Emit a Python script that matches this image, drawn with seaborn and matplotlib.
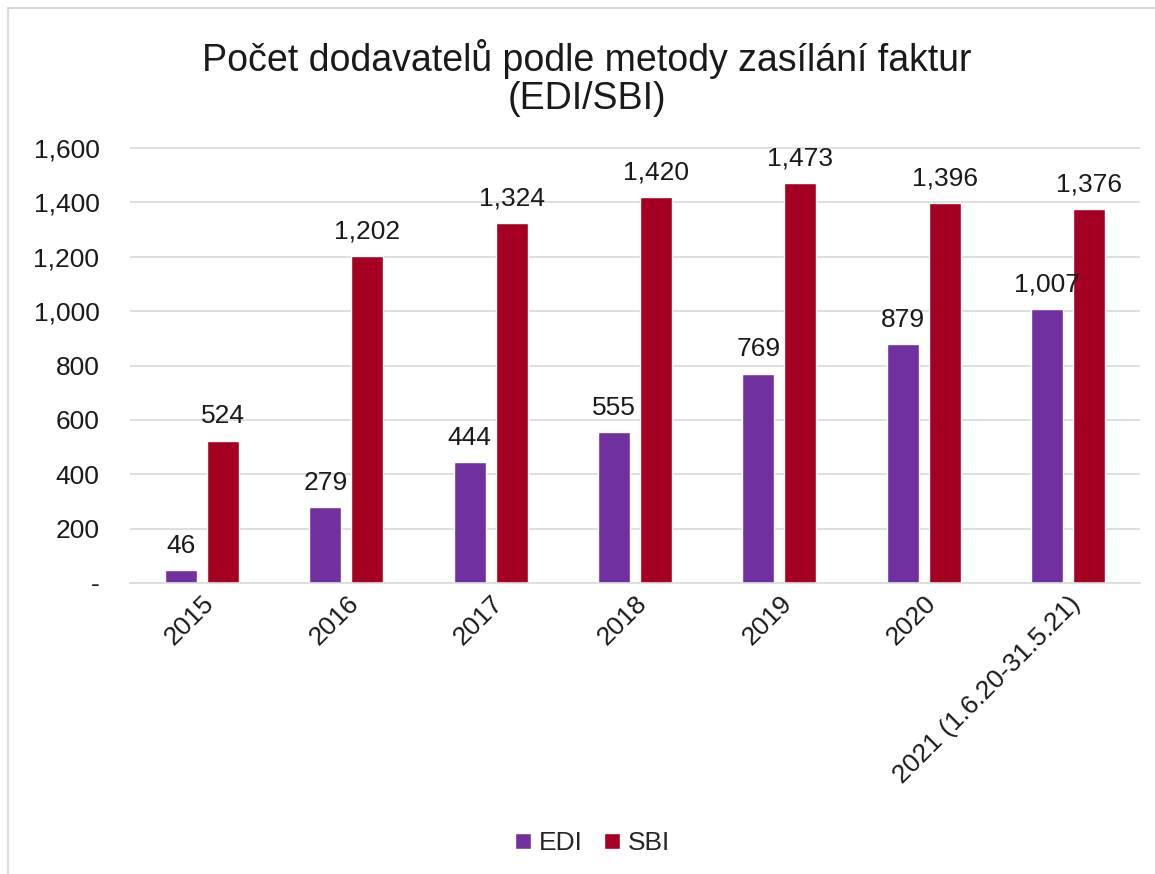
import matplotlib
matplotlib.use("Agg")
import matplotlib.pyplot as plt
import matplotlib.ticker as mticker
from matplotlib.patches import Rectangle
import seaborn as sns
import pandas as pd

years = ["2015", "2016", "2017", "2018", "2019", "2020", "2021 (1.6.20-31.5.21)"]
edi = [46, 279, 444, 555, 769, 879, 1007]
sbi = [524, 1202, 1324, 1420, 1473, 1396, 1376]
series = ["EDI", "SBI"]
colors = ["#7030A0", "#A50021"]

df = pd.DataFrame({
    "year": years * 2,
    "method": ["EDI"] * len(years) + ["SBI"] * len(years),
    "count": edi + sbi,
})

sns.set_style("white")
plt.rcParams["font.family"] = ["Liberation Sans", "DejaVu Sans"]

fig = plt.figure(figsize=(11.55, 8.74), dpi=100)
ax = fig.add_axes([130 / 1155, 1 - 583 / 874, 1010 / 1155, 435 / 874 * 1800 / 1600])

sns.barplot(data=df, x="year", y="count", hue="method", hue_order=series,
            palette=colors, width=0.583, gap=0.24, saturation=1, ax=ax)

for cont in ax.containers:
    ax.bar_label(cont, labels=[f"{v:,.0f}" for v in cont.datavalues],
                 padding=9, fontsize=19, color="#1a1a1a")

ax.set_ylim(0, 1800)
ax.set_yticks(range(0, 1601, 200))
ax.yaxis.set_major_formatter(
    mticker.FuncFormatter(lambda v, p: "-" if v == 0 else f"{v:,.0f}"))
ax.grid(axis="y", color="#d9d9d9", linewidth=1.2)
ax.set_axisbelow(True)
for s in ["left", "right", "top"]:
    ax.spines[s].set_visible(False)
ax.spines["bottom"].set_color("#d9d9d9")
ax.spines["bottom"].set_linewidth(1.2)
ax.tick_params(axis="y", labelsize=19, length=0, pad=22, labelcolor="#1a1a1a")
ax.tick_params(axis="x", labelsize=19, length=0, pad=6, labelcolor="#1a1a1a")
plt.setp(ax.get_xticklabels(), rotation=45, ha="right", rotation_mode="anchor")
ax.set_xlabel("")
ax.set_ylabel("")

ax.legend(loc="lower center", bbox_to_anchor=(0.458, -0.605), ncol=2, frameon=False,
          fontsize=19, handlelength=0.6, handleheight=0.6, handletextpad=0.3,
          columnspacing=0.8)

fig.text(0.508, 1 - 78 / 874, "Počet dodavatelů podle metody zasílání faktur\n(EDI/SBI)",
         ha="center", va="center", fontsize=27, color="#1a1a1a", linespacing=1.05)

fig.patches.append(Rectangle((8 / 1155, -0.1), 1.1, 1.1 - 8 / 874,
                             transform=fig.transFigure, fill=False,
                             edgecolor="#d9d9d9", linewidth=1.5))

fig.savefig("out.png", dpi=100)
